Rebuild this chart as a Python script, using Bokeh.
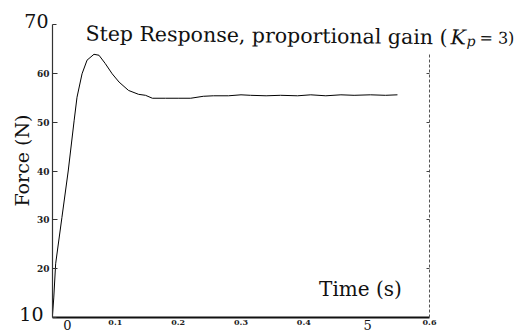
import math
from bokeh.plotting import figure
from bokeh.models import Range1d, FixedTicker, LinearAxis, Label
from bokeh.embed import file_html
from bokeh.resources import INLINE

# ---- data ----
time_s = [0.0, 0.002, 0.005, 0.015, 0.025, 0.0345, 0.039, 0.047, 0.055, 0.066,
          0.074, 0.084, 0.095, 0.106, 0.121, 0.137, 0.148, 0.159, 0.180, 0.200,
          0.220, 0.240, 0.256, 0.280, 0.300, 0.315, 0.340, 0.363, 0.390, 0.411,
          0.435, 0.459, 0.480, 0.506, 0.530, 0.549]
force_n = [10.5, 14.0, 21.0, 30.5, 40.0, 50.4, 55.1, 59.9, 62.7, 63.9,
           63.7, 62.0, 59.9, 58.2, 56.5, 55.7, 55.5, 54.9, 54.9, 54.9,
           54.9, 55.3, 55.4, 55.4, 55.6, 55.5, 55.4, 55.5, 55.4, 55.6,
           55.4, 55.6, 55.5, 55.6, 55.5, 55.6]

x_ticks = [0.1, 0.2, 0.3, 0.4, 0.6]          # small labelled ticks
x_big_pos = [0.0, 0.5]
x_big_text = ["0", "5"]
y_ticks = [20, 30, 40, 50, 60]               # small labelled ticks
y_big_pos = [10, 70]
y_big_text = ["10", "70"]
right_ticks = [20, 30, 40, 50, 60]

title_main = "Step Response, proportional gain ("
title_k = "K"
title_sub = "p"
title_end = "= 3)"
x_label = "Time (s)"
y_label = "Force (N)"

# ---- layout geometry (canvas pixels) ----
W, H = 516, 335
X0_PX, X1_PX = 52, 429      # where t=0 and t=0.6 sit
Y0_PX, Y1_PX = 317, 24      # where F=10 and F=70 sit
T0, T1, F0, F1 = 0.0, 0.6, 10.0, 70.0
sx = (X1_PX - X0_PX) / (T1 - T0)
sy = (Y0_PX - Y1_PX) / (F1 - F0)
BASE_FIX = 7                # measured shift of rendered baselines


def px_x(px):
    return T0 + (px - X0_PX) / sx


def px_y(py, base=False):
    if base:
        py -= BASE_FIX
    return F0 + (Y0_PX - py) / sy


SERIF = "DejaVu Serif"
INK = "#111111"

p = figure(width=W, height=H, output_backend="svg", toolbar_location=None,
           x_range=Range1d(px_x(0), px_x(W)), y_range=Range1d(px_y(H), px_y(0)),
           x_axis_location=None, y_axis_location=None, min_border=0)
p.outline_line_color = None
p.grid.visible = False
p.background_fill_color = "white"
p.border_fill_color = "white"

# bottom axis
xa = LinearAxis(fixed_location=F0, bounds=(T0, T1), ticker=FixedTicker(ticks=x_ticks))
xa.major_label_text_font = SERIF
xa.major_label_text_font_style = "bold"
xa.major_label_text_font_size = "8px"
xa.major_label_text_color = "#222222"
xa.major_label_standoff = 2
xa.major_tick_in = 0
xa.major_tick_out = 0
xa.minor_tick_line_color = None
xa.axis_line_width = 2
xa.axis_line_color = INK
p.add_layout(xa, "below")

# left axis
ya = LinearAxis(fixed_location=T0, bounds=(F0, F1),
                ticker=FixedTicker(ticks=y_ticks, minor_ticks=y_big_pos))
ya.major_label_text_font = SERIF
ya.major_label_text_font_style = "bold"
ya.major_label_text_font_size = "9px"
ya.major_label_text_color = "#222222"
ya.major_label_standoff = 3
ya.major_tick_in = 5
ya.major_tick_out = 0
ya.minor_tick_in = 4
ya.minor_tick_out = 0
ya.axis_line_width = 1.2
ya.axis_line_color = "#333333"
ya.major_tick_line_color = "#333333"
ya.minor_tick_line_color = "#333333"
p.add_layout(ya, "left")

# right (dashed) frame edge
ra = LinearAxis(fixed_location=T1, bounds=(F0, 64),
                ticker=FixedTicker(ticks=[], minor_ticks=right_ticks))
ra.major_tick_in = 0
ra.major_tick_out = 0
ra.minor_tick_in = 3
ra.minor_tick_out = 0
ra.axis_line_dash = "3 2"
ra.axis_line_color = "#555555"
ra.minor_tick_line_color = "#444444"
p.add_layout(ra, "right")

# curve
p.line(time_s, force_n, line_color="black", line_width=1)

# big tick labels (overlay scale)
x_big_shift = [15, 1]
for pos, txt, sh in zip(x_big_pos, x_big_text, x_big_shift):
    p.add_layout(Label(x=pos, y=px_y(331, True), x_offset=sh, text=txt,
                       text_align="center", text_baseline="alphabetic",
                       text_font=SERIF, text_font_size="13px", text_color=INK))
y_big_base = [320, 27]
y_big_right = [43, 48]
for pos, txt, bpx, rpx in zip(y_big_pos, y_big_text, y_big_base, y_big_right):
    p.add_layout(Label(x=px_x(rpx), y=px_y(bpx, True), text=txt,
                       text_align="right", text_baseline="alphabetic",
                       text_font=SERIF, text_font_size="19px", text_color=INK))

# title pieces (slightly tilted like the scan)
tilt = -0.0105
p.add_layout(Label(x=px_x(85), y=px_y(40, True), text=title_main, angle=tilt,
                   text_baseline="alphabetic", text_font=SERIF,
                   text_font_size="20.5px", text_color=INK))
p.add_layout(Label(x=px_x(450), y=px_y(43.8, True), text=title_k, angle=tilt,
                   text_baseline="alphabetic", text_font=SERIF, text_font_style="italic",
                   text_font_size="20.5px", text_color=INK))
p.add_layout(Label(x=px_x(466), y=px_y(47.5, True), text=title_sub, angle=tilt,
                   text_baseline="alphabetic", text_font=SERIF, text_font_style="italic",
                   text_font_size="14px", text_color=INK))
p.add_layout(Label(x=px_x(479), y=px_y(44.3, True), text=title_end, angle=tilt,
                   text_baseline="alphabetic", text_font=SERIF,
                   text_font_size="16px", text_color=INK))

# axis titles placed as in the reference
p.add_layout(Label(x=px_x(360), y=px_y(295, True), text=x_label, text_align="center",
                   text_baseline="alphabetic", text_font=SERIF, text_font_size="20px",
                   text_color=INK))
p.add_layout(Label(x=px_x(21.5), y=px_y(160), text=y_label, angle=math.pi / 2,
                   text_align="center", text_baseline="middle", text_font=SERIF,
                   text_font_size="19px", text_color=INK))

open("out.html", "w").write(file_html(p, INLINE))
